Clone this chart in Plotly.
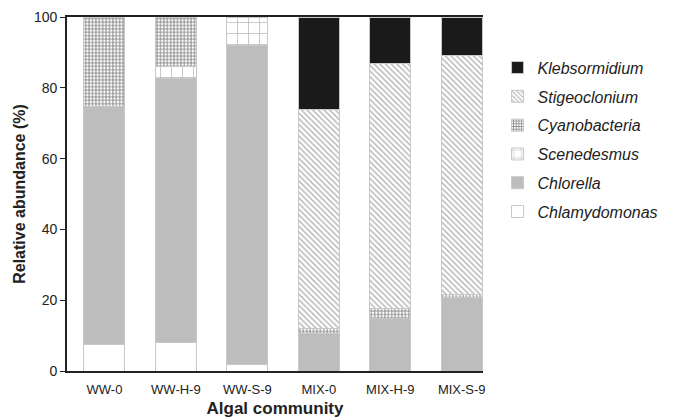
import plotly.graph_objects as go

categories = ["WW-0", "WW-H-9", "WW-S-9", "MIX-0", "MIX-H-9", "MIX-S-9"]
chlamydomonas = [7.5, 8.0, 1.7, 0, 0, 0]
chlorella = [67.2, 74.6, 90.3, 10.7, 14.7, 20.8]
scenedesmus = [0, 3.3, 8.0, 0, 0, 0]
cyanobacteria = [25.3, 14.1, 0, 1.2, 3.0, 0.7]
stigeoclonium = [0, 0, 0, 62.1, 69.2, 67.6]
klebsormidium = [0, 0, 0, 26.0, 13.1, 10.9]

series = [
    ("Chlamydomonas", chlamydomonas, dict(color="white")),
    ("Chlorella", chlorella, dict(color="#bdbdbd")),
    ("Scenedesmus", scenedesmus, dict(color="white", pattern=dict(shape="+", fgcolor="#444444", bgcolor="white", size=11, solidity=0.1))),
    ("Cyanobacteria", cyanobacteria, dict(color="white", pattern=dict(shape="+", fgcolor="#111111", bgcolor="white", size=3.4, solidity=0.5))),
    ("Stigeoclonium", stigeoclonium, dict(color="white", pattern=dict(shape="\\", fgcolor="#666666", bgcolor="white", size=4, solidity=0.35))),
    ("Klebsormidium", klebsormidium, dict(color="#1a1a1a")),
]

fig = go.Figure()
n = len(series)
for i, (name, vals, mk) in enumerate(series):
    mk = dict(mk)
    mk["line"] = dict(color="#c8c8c8", width=1)
    fig.add_trace(go.Bar(
        x=categories, y=vals, name=name, marker=mk, width=0.575,
        legendgroup=name, legendrank=(n - i) * 10,
    ))

# page body has an 8px default margin; figure sized to fit the 673x419 window
fig.update_layout(
    barmode="stack",
    width=665, height=411,
    margin=dict(l=59, r=176, t=9, b=48),
    plot_bgcolor="white", paper_bgcolor="white",
    font=dict(family="Arial, Liberation Sans, sans-serif", size=13, color="#222222"),
    showlegend=True,
    legend=dict(
        traceorder="grouped", tracegroupgap=5,
        x=1.035, xanchor="left", y=0.905, yanchor="top",
        font=dict(size=16, style="italic", color="#222222"),
        itemwidth=30,
    ),
    xaxis=dict(
        range=[-0.524, 5.298], showline=True, linecolor="#222222", linewidth=1.8,
        mirror=True, ticks="", showgrid=False, automargin=False,
        ticklabelstandoff=5,
        title=dict(text="<b>Algal community</b>", font=dict(size=17), standoff=7),
        tickfont=dict(size=13),
    ),
    yaxis=dict(
        range=[0, 100], dtick=20, showline=True, linecolor="#222222", linewidth=1.8,
        ticks="outside", ticklen=5, tickcolor="#222222", showgrid=False, zeroline=False,
        automargin=False, ticklabeloverflow="allow",
        title=dict(text="<b>Relative abundance (%)</b>", font=dict(size=16), standoff=4),
        tickfont=dict(size=14),
    ),
)

fig.write_html("out.html")
